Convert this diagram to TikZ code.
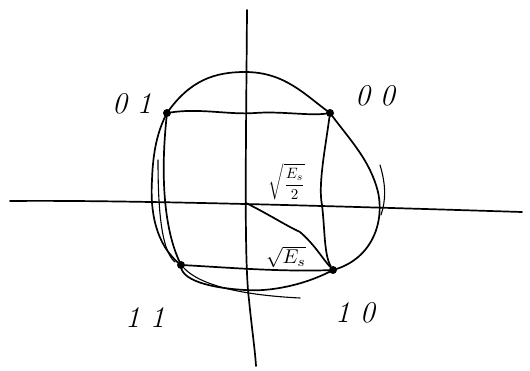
\documentclass[tikz,border=0pt]{standalone}
\usetikzlibrary{calc}
\begin{document}
\begin{tikzpicture}[x=1pt,y=-1pt,
  stroke/.style={line width=1.7pt, line cap=round, line join=round},
  thin stroke/.style={line width=1.1pt, line cap=round},
  dot/.style={circle, fill=black, inner sep=0pt, minimum size=8pt},
  lbl/.style={font=\fontsize{30}{30}\selectfont\itshape, inner sep=0pt},
  mlbl/.style={inner sep=0pt}]
\useasboundingbox (0,0) rectangle (530,370);
% axes
\coordinate (yt) at (247,10);
\coordinate (yb) at (256,366);
\coordinate (xl) at (10,201);
\coordinate (xr) at (522,212);
\coordinate (O) at (246,203);
\draw[stroke] (yt) .. controls (246,150) and (244,260) .. (249,300) .. controls (252,330) and (255,350) .. (yb);
\draw[stroke] (xl) .. controls (120,200) and (300,205) .. (xr);
% constellation points
\node[dot] (p01) at (167,113) {};
\node[dot] (p00) at (330,113) {};
\node[dot] (p11) at (181,265) {};
\node[dot] (p10) at (333,270) {};
% circle through the points
\draw[stroke] (p01.center) .. controls (190,80) and (215,72) .. (245,72)
  .. controls (285,72) and (305,95) .. (p00.center)
  .. controls (350,140) and (370,160) .. (378,192)
  .. controls (385,225) and (370,260) .. (p10.center)
  .. controls (305,285) and (270,292) .. (245,290)
  .. controls (210,288) and (180,280) .. (p11.center)
  .. controls (155,245) and (150,210) .. (152,180)
  .. controls (153,150) and (158,130) .. (p01.center);
\draw[thin stroke] (380,165) .. controls (386,185) and (386,200) .. (381,215);
\draw[thin stroke] (158,160) .. controls (158,200) and (160,250) .. (175,262);
\draw[thin stroke] (p11) .. controls (200,285) and (240,295) .. (300,298);
% square
\draw[stroke] (p01) .. controls (200,108) and (230,115) .. (255,113) .. controls (280,111) and (310,116) .. (p00);
\draw[stroke] (p00) .. controls (325,150) and (318,185) .. (322,205) .. controls (325,230) and (324,255) .. (p10);
\draw[stroke] (p11) .. controls (220,267) and (280,272) .. (p10);
\draw[stroke] (p11) .. controls (165,230) and (160,180) .. (p01);
% radius to 10
\draw[stroke] (O) .. controls (270,215) and (285,225) .. (300,232) .. controls (315,245) and (322,258) .. (p10);
% labels
\node[lbl] (l01) at (132,104) {0\,\,1};
\node[lbl] (l00) at (375,96) {0\,\,0};
\node[lbl] (l11) at (145,318) {1\,\,1};
\node[lbl] (l10) at (355,313) {1\,\,0};
\node[mlbl] (es2) at (287,182) {\scalebox{1.5}{$\displaystyle\sqrt{\frac{E_s}{2}}$}};
\node[mlbl] (es) at (286,257) {\scalebox{2}{$\sqrt{E_s}$}};
\end{tikzpicture}
\end{document}
